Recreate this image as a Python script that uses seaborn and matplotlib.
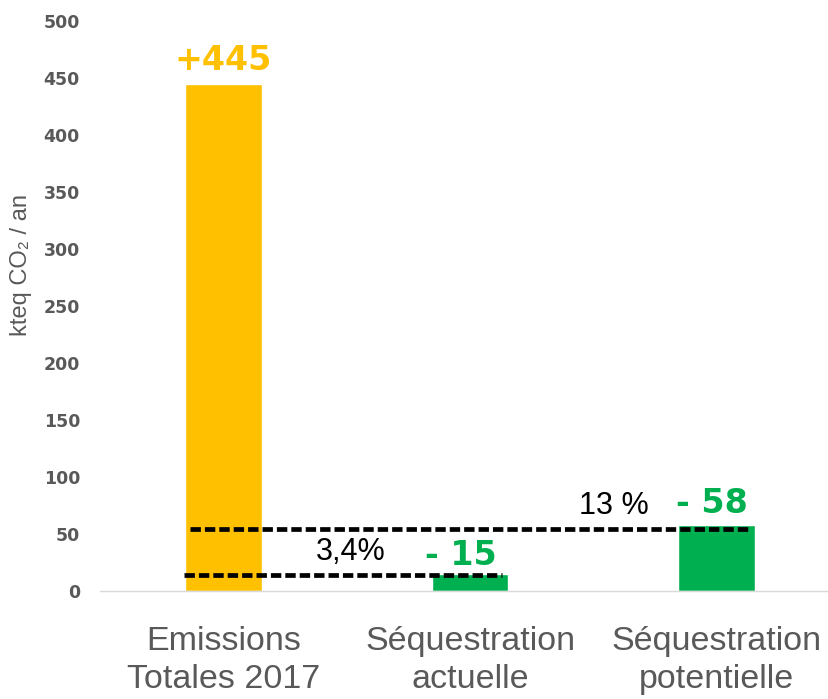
import matplotlib
matplotlib.use("Agg")
import matplotlib.pyplot as plt
import seaborn as sns
import pandas as pd

# ---- data ----
categories = ["Emissions\nTotales 2017", "Séquestration\nactuelle", "Séquestration\npotentielle"]
values = [445, 15, 58]
value_labels = ["+445", "- 15", "- 58"]
bar_colors = ["#FFC000", "#00B050", "#00B050"]
share_labels = ["3,4%", "13 %"]
ref_levels = [14, 54]
y_ticks = [0, 50, 100, 150, 200, 250, 300, 350, 400, 450, 500]
y_label = "kteq CO\u2082 / an"

sns.set_theme(style="white")
plt.rcParams["font.family"] = ["Liberation Sans", "DejaVu Sans"]

df = pd.DataFrame({"cat": categories, "val": values})

W, H = 829, 699
fig = plt.figure(figsize=(W / 100, H / 100), dpi=100)
ax = fig.add_axes([100 / W, 1 - 591 / H, 729 / W, 570 / H])

sns.barplot(data=df, x="cat", y="val", hue="cat", palette=bar_colors,
            width=0.31, saturation=1, legend=False, ax=ax, zorder=2)

ax.set_xlim(-0.501, 2.456)
ax.set_ylim(0, 500)
ax.set_yticks(y_ticks)
ax.set_yticklabels([str(t) for t in y_ticks], fontfamily="DejaVu Sans",
                   fontweight="bold", fontsize=12.5, color="#595959")
ax.set_xticks(range(len(categories)))
ax.set_xticklabels(categories, fontsize=24.5, color="#595959", linespacing=1.32)
ax.tick_params(axis="x", length=0, pad=25)
ax.tick_params(axis="y", length=0, pad=14.4)
ax.set_xlabel("")

for side in ["top", "right", "left"]:
    ax.spines[side].set_visible(False)
ax.spines["bottom"].set_color("#D9D9D9")
ax.spines["bottom"].set_linewidth(1.0)
ax.grid(False)

# dashed reference lines
ax.plot([-0.160, 1.130], [ref_levels[0]] * 2, color="black", lw=3.4,
        dashes=(2.2, 0.85), dash_capstyle="butt", zorder=3)
ax.plot([-0.136, 2.128], [ref_levels[1]] * 2, color="black", lw=3.4,
        dashes=(2.2, 0.85), dash_capstyle="butt", zorder=3)

# value labels
offsets = [(0, 14), (-9, 9), (-5, 12)]
for i, (v, lab, col) in enumerate(zip(values, value_labels, bar_colors)):
    ax.annotate(lab, xy=(i, v), xytext=offsets[i], textcoords="offset pixels",
                ha="center", va="baseline", fontfamily="DejaVu Sans",
                fontweight="bold", fontsize=24, color=col, zorder=4)

# share labels
ax.text(0.517, 27.2, share_labels[0], ha="center", va="baseline",
        fontsize=22, color="black")
ax.text(1.584, 67.5, share_labels[1], ha="center", va="baseline",
        fontsize=22, color="black")

ax.set_ylabel(y_label, fontsize=17, color="#595959")
ax.yaxis.label.set_va("center")
ax.yaxis.set_label_coords((21 - 100) / 729, (591 - 265) / 570)

fig.savefig("out.png", dpi=100)
